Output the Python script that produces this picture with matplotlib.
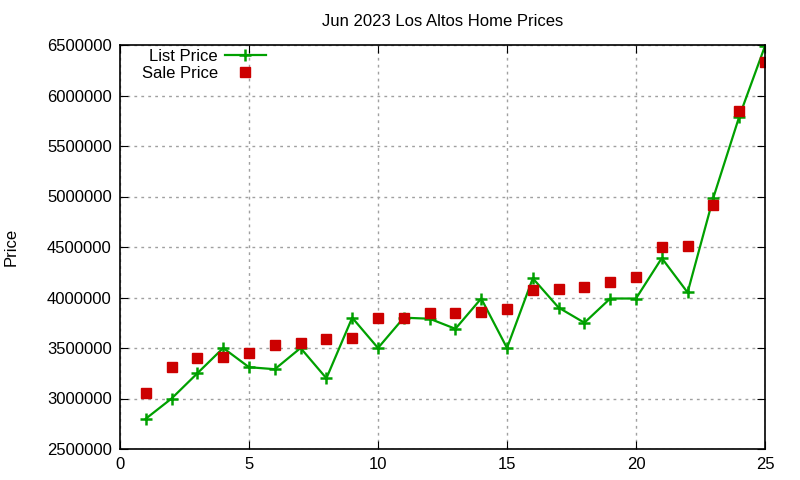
import numpy as np
import matplotlib.pyplot as plt

plt.rcParams['font.family'] = ['Liberation Sans', 'DejaVu Sans']

homes = list(range(1, 26))
list_price = [2800000, 3000000, 3250000, 3500000, 3310000, 3290000, 3500000, 3200000,
              3800000, 3500000, 3800000, 3790000, 3690000, 3990000, 3500000, 4190000,
              3900000, 3750000, 3990000, 3990000, 4390000, 4050000, 4990000, 5790000,
              6490000]
sale_price = [3050000, 3310000, 3400000, 3410000, 3450000, 3530000, 3550000, 3590000,
              3600000, 3800000, 3800000, 3850000, 3850000, 3860000, 3890000, 4070000,
              4080000, 4100000, 4150000, 4200000, 4500000, 4510000, 4920000, 5850000,
              6330000]

fig = plt.figure(figsize=(8, 4.8), dpi=100)
ax = fig.add_axes([120 / 800, 1 - 449 / 480, 645 / 800, 404 / 480])

ax.plot(homes, list_price, color='#00a000', lw=1.6, marker='+', ms=9, mew=1.8,
        label='List Price')
ax.plot(homes, sale_price, ls='none', marker='s', ms=6.5, color='#cc0000',
        label='Sale Price')

ax.set_xlim(0, 25)
ax.set_ylim(2500000, 6500000)
ax.set_xticks(range(0, 26, 5))
ax.set_yticks(range(2500000, 6500001, 500000))
ax.ticklabel_format(axis='y', style='plain', useOffset=False)
ax.tick_params(direction='in', top=True, right=True, labelsize=12, length=6,
               color='black', pad=6)
ax.grid(True, color='#a0a0a0', ls=(0, (2, 3)), lw=1)
for s in ax.spines.values():
    s.set_linewidth(1.2)

ax.set_title('Jun 2023 Los Altos Home Prices', fontsize=12, pad=14)
ax.set_ylabel('Price', fontsize=12, labelpad=20)

ax.legend(loc='upper right', markerfirst=False, frameon=False, fontsize=12,
          handlelength=2.5, handletextpad=0.4, borderaxespad=0.0,
          labelspacing=0.1, bbox_to_anchor=(0.2372, 1.007))

fig.savefig('out.png', dpi=100)
